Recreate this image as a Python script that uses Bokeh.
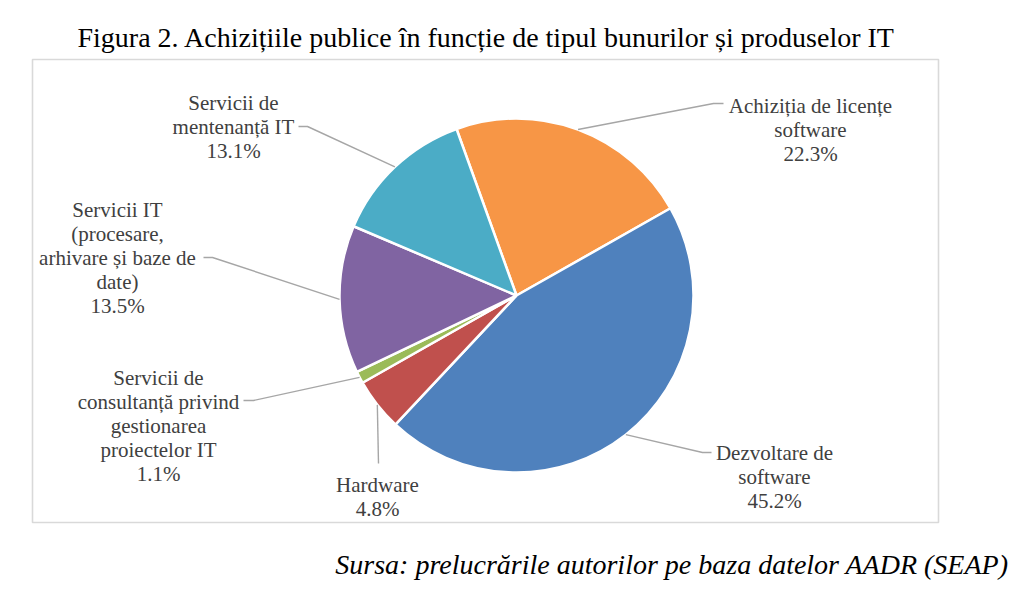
import math
from bokeh.plotting import figure
from bokeh.models import Range1d, ColumnDataSource
from bokeh.embed import file_html
from bokeh.resources import INLINE
from bokeh.core.properties import value

# ---------------- data ----------------
title_text = "Figura 2. Achizițiile publice în funcție de tipul bunurilor și produselor IT"
source_text = "Sursa: prelucrările autorilor pe baza datelor AADR (SEAP)"

categories = [
    "Achiziția de licențe software",
    "Dezvoltare de software",
    "Hardware",
    "Servicii de consultanță privind gestionarea proiectelor IT",
    "Servicii IT (procesare, arhivare și baze de date)",
    "Servicii de mentenanță IT",
]
shares = [22.3, 45.2, 4.8, 1.1, 13.5, 13.1]
colors = ["#F79646", "#4F81BD", "#C0504D", "#9BBB59", "#8064A2", "#4BACC6"]

# how each category name is broken into lines in its label
label_lines = [
    ["Achiziția de licențe", "software"],
    ["Dezvoltare de", "software"],
    ["Hardware"],
    ["Servicii de", "consultanță privind", "gestionarea", "proiectelor IT"],
    ["Servicii IT", "(procesare,", "arhivare și baze de", "date)"],
    ["Servicii de", "mentenanță IT"],
]

# ---------------- layout (image pixel coordinates, y down) ----------------
W, H = 1024, 605
CX, CY, R = 516, 295, 177
FIRST_ANGLE = -19.8  # degrees clockwise from 12 o'clock where the first slice starts
LINE_STEP = 24.2
# label centre x and first baseline y
label_pos = [(810, 105), (774, 452), (377, 484), (158, 377), (117, 209), (233, 102)]
# leader line points from the label side (the pie-side end is computed)
leader_pts = [
    [(723, 103), (713, 103)],
    [(711, 452), (702, 452)],
    [(378, 463)],
    [(243, 400), (253, 400)],
    [(203, 257), (212, 257)],
    [(298, 126), (307, 126)],
]


def Y(y):
    return H - y


p = figure(width=W, height=H, x_range=Range1d(0, W), y_range=Range1d(0, H),
           output_backend="svg", toolbar_location=None, min_border=0,
           x_axis_location=None, y_axis_location=None)
p.grid.visible = False
p.outline_line_color = None
p.background_fill_color = "white"
p.border_fill_color = "white"

# frame box
p.quad(left=[32], right=[938], top=[Y(59)], bottom=[Y(522)], fill_color=None,
       line_color="#d9d9d9", line_width=1.6)

# wedges
starts, ends, mids = [], [], []
cum = 0.0
for s in shares:
    a0 = FIRST_ANGLE + 3.6 * cum
    a1 = a0 + 3.6 * s
    cum += s
    starts.append(math.radians(90 - a1))
    ends.append(math.radians(90 - a0))
    mids.append((a0 + a1) / 2)

src = ColumnDataSource(dict(x=[CX] * len(shares), y=[Y(CY)] * len(shares),
                            start=starts, end=ends, color=colors, cat=categories))
p.wedge(x="x", y="y", radius=R, start_angle="start", end_angle="end",
        direction="anticlock", fill_color="color", line_color="white",
        line_width=2.5, source=src)

# leader lines
for i, m in enumerate(mids):
    ax = CX + R * math.sin(math.radians(m))
    ay = CY - R * math.cos(math.radians(m))
    pts = leader_pts[i] + [(ax, ay)]
    p.line([q[0] for q in pts], [Y(q[1]) for q in pts], line_color="#a6a6a6",
           line_width=1.4)

# labels
lx, ly, lt = [], [], []
for i, lines in enumerate(label_lines):
    allines = lines + ["%.1f%%" % shares[i]]
    cx, by = label_pos[i]
    for k, t in enumerate(allines):
        lx.append(cx)
        ly.append(Y(by + k * LINE_STEP))
        lt.append(t)
p.text(x=lx, y=ly, text=lt, text_align="center", text_baseline="alphabetic",
       text_font=value("Liberation Serif"), text_font_size="21px",
       text_color="#404040")

# title and source
p.text(x=[486], y=[Y(37)], text=[title_text], text_align="center",
       text_baseline="alphabetic", text_font=value("Liberation Serif"),
       text_font_size="28px", text_color="#000000")
p.text(x=[1008], y=[Y(564)], text=[source_text], text_align="right",
       text_baseline="alphabetic", text_font=value("Liberation Serif"),
       text_font_size="28px", text_font_style="italic", text_color="#000000")

open("out.html", "w").write(file_html(p, INLINE))
